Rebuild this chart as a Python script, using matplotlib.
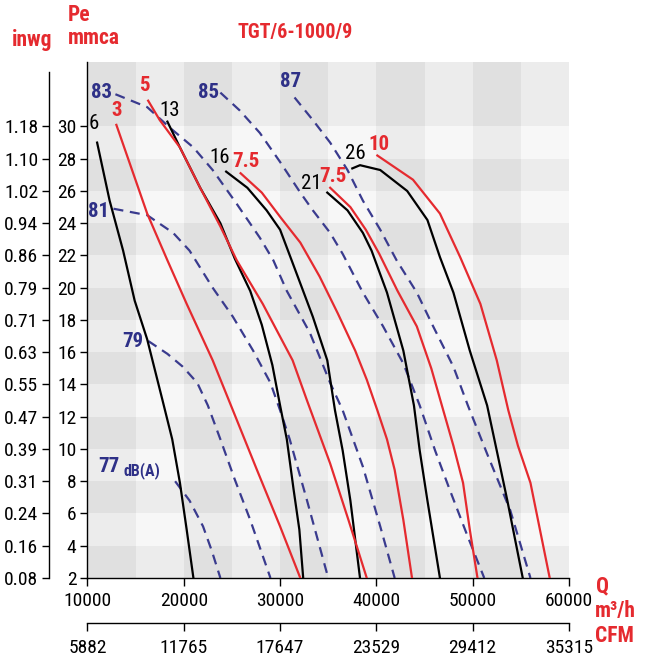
import matplotlib
matplotlib.use("Agg")
import matplotlib.pyplot as plt
from matplotlib.patches import Rectangle

plt.rcParams['font.family'] = ['Liberation Sans Narrow', 'Roboto Condensed', 'DejaVu Sans Condensed', 'DejaVu Sans']
plt.rcParams['font.stretch'] = 'condensed'

RED = '#e52a2f'
NAVY = '#2e3087'
DASH = '#3a3b8e'

# curvas de pressao (Q em m3/h, Pe em mmca) - angulos em preto, potencias em vermelho
q6 = [11000, 12300, 13700, 14900, 16200, 17800, 18800, 19600, 20300, 21000]
p6 = [29.0, 25.4, 22.3, 19.2, 16.8, 13.0, 10.6, 7.9, 5.0, 2.0]
q13 = [18300, 19600, 21700, 23800, 25300, 26900, 28100, 29200, 30000, 30700, 31400, 32000, 32400]
p13 = [30.3, 28.7, 26.2, 24.0, 21.8, 19.8, 17.7, 15.2, 12.7, 10.6, 7.5, 5.0, 2.0]
q16 = [24400, 26600, 28600, 30000, 31200, 33400, 34900, 35700, 36500, 37300, 38300]
p16 = [27.2, 26.2, 24.8, 23.6, 21.7, 18.2, 15.5, 12.4, 9.9, 6.8, 2.0]
q21 = [34900, 37000, 38600, 39500, 41100, 42800, 43900, 44500, 45300, 46600]
p21 = [25.9, 24.8, 23.4, 22.3, 19.7, 16.1, 12.7, 9.9, 6.8, 2.0]
q26 = [37500, 38300, 40400, 43200, 45300, 46600, 48000, 49700, 51500, 52500, 53600, 55200]
p26 = [27.4, 27.6, 27.3, 26.0, 24.2, 21.9, 19.7, 16.1, 12.7, 9.9, 6.8, 2.0]

q3 = [13000, 16200, 18300, 20300, 23000, 25100, 27600, 30000, 32100]
p3 = [30.1, 24.6, 21.7, 19.0, 15.5, 12.4, 8.7, 5.2, 2.0]
q5 = [16300, 17500, 19600, 21700, 23800, 25500, 28200, 31300, 32800, 35200, 37100, 39000]
p5 = [31.6, 30.4, 28.7, 26.2, 23.8, 21.7, 19.0, 15.5, 13.0, 9.1, 5.6, 2.0]
q75a = [25900, 28100, 30000, 32100, 34100, 36000, 37800, 39000, 40100, 41100, 41900, 42800, 43700]
p75a = [27.1, 25.9, 24.4, 22.8, 20.7, 18.4, 16.1, 14.3, 12.4, 10.6, 8.7, 5.6, 2.0]
q75b = [35200, 37300, 38900, 40300, 42200, 44200, 45700, 46800, 48000, 49000, 49700, 50500]
p75b = [26.2, 25.0, 23.6, 22.1, 19.8, 17.6, 15.0, 12.7, 10.2, 7.9, 5.0, 2.0]
q10 = [40100, 43800, 46600, 48700, 50800, 52500, 53700, 54700, 56000, 58000]
p10 = [28.2, 26.7, 24.6, 21.9, 19.0, 15.5, 12.4, 10.2, 7.9, 2.0]

# curvas de ruido dB(A)
q77 = [19100, 20600, 22000, 22900, 23800]
p77 = [8.0, 6.8, 5.2, 3.7, 2.0]
q79 = [16300, 18300, 19900, 21400, 22500, 23800, 25300, 26900, 29000]
p79 = [16.7, 15.9, 15.1, 14.1, 12.7, 10.6, 8.1, 5.6, 2.0]
q81 = [12700, 16200, 18900, 20600, 23000, 25100, 27200, 29000, 30000, 31000, 32800, 35000]
p81 = [24.9, 24.5, 23.4, 22.3, 20.0, 18.2, 16.1, 14.1, 12.4, 10.6, 6.8, 2.0]
q83 = [12900, 16200, 18600, 21000, 23000, 25500, 27900, 29300, 30700, 33100, 35200, 36500, 38600, 40400, 41900]
p83 = [32.0, 31.2, 29.9, 28.7, 27.3, 25.2, 23.1, 21.7, 19.8, 17.2, 14.1, 12.4, 8.9, 5.2, 2.0]
q85 = [23800, 25800, 27900, 30000, 32100, 33400, 35200, 36500, 38600, 40700, 42800, 44500, 46100, 47600, 49400, 51200]
p85 = [32.1, 31.0, 29.6, 27.8, 25.9, 24.8, 23.4, 22.1, 19.7, 17.6, 15.3, 12.7, 9.9, 7.5, 4.7, 2.0]
q87 = [31500, 33400, 35200, 37000, 38600, 40400, 42100, 44200, 45900, 48000, 49500, 51500, 53900, 56000]
p87 = [31.8, 30.4, 29.0, 27.3, 25.4, 23.6, 21.7, 19.7, 17.6, 15.1, 12.7, 9.7, 6.2, 2.0]

# eixos
q_ticks = [10000, 20000, 30000, 40000, 50000, 60000]
cfm_labels = ['5882', '11765', '17647', '23529', '29412', '35315']
pe_ticks = [2, 4, 6, 8, 10, 12, 14, 16, 18, 20, 22, 24, 26, 28, 30]
inwg_labels = ['0.08', '0.16', '0.24', '0.31', '0.39', '0.47', '0.55', '0.63',
               '0.71', '0.79', '0.86', '0.94', '1.02', '1.10', '1.18']

fig = plt.figure(figsize=(6.49, 6.58), dpi=100)
ax = fig.add_axes([0.1348, 0.1216, 0.7419, 0.7842])
ax.set_xlim(10000, 60000)
ax.set_ylim(2, 34)

# fundo quadriculado
q_edges = list(range(10000, 60001, 5000))
p_edges = [2, 4, 6, 8, 10, 12, 14, 16, 18, 20, 22, 24, 26, 28, 30, 34]
for i in range(len(q_edges) - 1):
    for j in range(len(p_edges) - 1):
        v = 0.97 - 0.045 * (i % 2 == 0) - 0.045 * (j % 2 == 0)
        ax.add_patch(Rectangle((q_edges[i], p_edges[j]), q_edges[i + 1] - q_edges[i],
                               p_edges[j + 1] - p_edges[j], facecolor=(v, v, v),
                               edgecolor='none', zorder=0))

lw = 1.6
for q, p in [(q6, p6), (q13, p13), (q16, p16), (q21, p21), (q26, p26)]:
    ax.plot(q, p, color='black', lw=lw, zorder=3)
for q, p in [(q3, p3), (q5, p5), (q75a, p75a), (q75b, p75b), (q10, p10)]:
    ax.plot(q, p, color=RED, lw=lw, zorder=3)
for q, p in [(q77, p77), (q79, p79), (q81, p81), (q83, p83), (q85, p85), (q87, p87)]:
    ax.plot(q, p, color=DASH, lw=1.6, linestyle=(0, (4.5, 3)), zorder=2)

labels = [
    ('6', 10700, 30.2, 'black', 'normal'),
    ('13', 18500, 31.0, 'black', 'normal'),
    ('16', 23700, 28.1, 'black', 'normal'),
    ('21', 33200, 26.45, 'black', 'normal'),
    ('26', 37800, 28.3, 'black', 'normal'),
    ('3', 13050, 31.0, RED, 'bold'),
    ('5', 15950, 32.55, RED, 'bold'),
    ('7.5', 26450, 27.8, RED, 'bold'),
    ('7.5', 35500, 26.9, RED, 'bold'),
    ('10', 40300, 28.9, RED, 'bold'),
    ('77', 12250, 8.9, NAVY, 'bold'),
    ('79', 14750, 16.65, NAVY, 'bold'),
    ('81', 11100, 24.7, NAVY, 'bold'),
    ('83', 11450, 32.1, NAVY, 'bold'),
    ('85', 22550, 32.1, NAVY, 'bold'),
    ('87', 31100, 32.8, NAVY, 'bold'),
]
for t, x, y, c, w in labels:
    ax.text(x, y, t, color=c, fontweight=w, fontsize=15, ha='center', va='center', zorder=4)
ax.text(15650, 8.65, 'dB(A)', color=NAVY, fontweight='bold', fontsize=11.5,
        ha='center', va='center', zorder=4)

for s in ['top', 'right']:
    ax.spines[s].set_visible(False)
ax.spines['left'].set_linewidth(1.0)
ax.spines['bottom'].set_linewidth(1.0)
ax.set_xticks(q_ticks)
ax.set_xticklabels([str(v) for v in q_ticks])
ax.set_yticks(pe_ticks)
ax.set_yticklabels([str(v) for v in pe_ticks])
ax.tick_params(axis='both', labelsize=14, length=5, width=1.0, color='black', pad=3)
ax.tick_params(axis='x', length=6, pad=4)

# eixo inwg
ax2 = ax.secondary_yaxis(-0.0793)
ax2.set_yticks(pe_ticks)
ax2.set_yticklabels(inwg_labels)
ax2.tick_params(labelsize=14, length=5, width=1.0, pad=3)
ax2.spines['left'].set_bounds(2, 33.4)
ax2.spines['left'].set_linewidth(1.0)

# eixo CFM
ax3 = ax.secondary_xaxis(-0.0878)
ax3.set_xticks(q_ticks)
ax3.set_xticklabels(cfm_labels)
ax3.tick_params(labelsize=14, length=6, width=1.0, pad=5)
ax3.spines['bottom'].set_linewidth(1.0)

fig.text(0.455, 0.950, 'TGT/6-1000/9', color=RED, fontweight='bold', fontsize=14.5,
         ha='center', va='center')
fig.text(0.104, 0.977, 'Pe', color=RED, fontweight='bold', fontsize=15.5, ha='left', va='center')
fig.text(0.104, 0.942, 'mmca', color=RED, fontweight='bold', fontsize=15.5, ha='left', va='center')
fig.text(0.018, 0.939, 'inwg', color=RED, fontweight='bold', fontsize=15.5, ha='left', va='center')
fig.text(0.918, 0.109, 'Q', color=RED, fontweight='bold', fontsize=15.5, ha='left', va='center')
fig.text(0.916, 0.071, 'm³/h', color=RED, fontweight='bold', fontsize=15.5, ha='left', va='center')
fig.text(0.917, 0.033, 'CFM', color=RED, fontweight='bold', fontsize=15.5, ha='left', va='center')

fig.savefig('out.png', dpi=100)
